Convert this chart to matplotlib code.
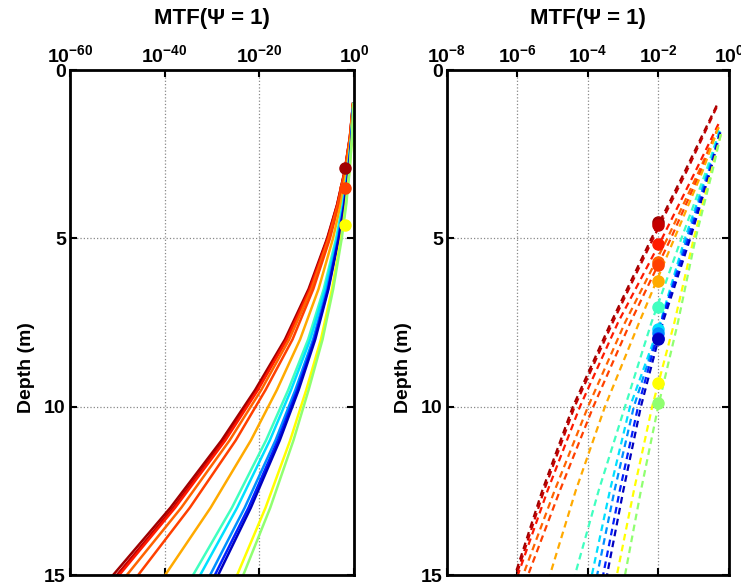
import numpy as np
import matplotlib.pyplot as plt

plt.rcParams['font.family'] = ['Liberation Sans', 'DejaVu Sans']
plt.rcParams['font.weight'] = 'bold'
plt.rcParams['mathtext.fontset'] = 'custom'
plt.rcParams['mathtext.rm'] = 'Liberation Sans:bold'
plt.rcParams['mathtext.bf'] = 'Liberation Sans:bold'
plt.rcParams['mathtext.it'] = 'Liberation Sans:bold'

# farby kriviek (jet-like)
colors = ['#a00000', '#c40000', '#ff1a00', '#ff6400', '#ff4000', '#ffaa00', '#40ffc0',
          '#00e0ff', '#0090ff', '#0020ff', '#0000c0', '#ffff00', '#90ff70']

# lavy graf: log10(MTF) v hlbkach
left_depth = [1, 2, 3, 4, 5, 6.5, 8, 9.5, 11, 13, 15]
left_logmtf = [
    [-0.23, -0.9, -2.0, -3.6, -5.7, -9.6, -14.6, -20.9, -28.0, -38.8, -50.9],
    [-0.22, -0.89, -1.97, -3.56, -5.6, -9.4, -14.3, -20.5, -27.5, -38.2, -50.1],
    [-0.22, -0.88, -1.95, -3.5, -5.5, -9.3, -14.2, -20.3, -27.2, -37.8, -49.6],
    [-0.21, -0.85, -1.9, -3.4, -5.35, -9.0, -13.7, -19.6, -26.3, -36.5, -48.0],
    [-0.2, -0.81, -1.8, -3.25, -5.1, -8.6, -13.0, -18.7, -25.0, -34.7, -45.6],
    [-0.18, -0.71, -1.6, -2.85, -4.45, -7.5, -11.4, -16.3, -21.8, -30.3, -39.9],
    [-0.15, -0.6, -1.36, -2.42, -3.8, -6.4, -9.7, -13.9, -18.6, -25.8, -34.0],
    [-0.14, -0.58, -1.3, -2.3, -3.6, -6.1, -9.25, -13.3, -17.8, -24.7, -32.5],
    [-0.14, -0.54, -1.22, -2.16, -3.4, -5.7, -8.65, -12.4, -16.6, -23.1, -30.4],
    [-0.13, -0.52, -1.18, -2.1, -3.27, -5.5, -8.4, -12.0, -16.1, -22.3, -29.4],
    [-0.13, -0.51, -1.15, -2.04, -3.2, -5.4, -8.2, -11.7, -15.7, -21.8, -28.7],
    [-0.11, -0.44, -0.99, -1.76, -2.75, -4.65, -7.0, -10.1, -13.5, -18.7, -24.7],
    [-0.1, -0.42, -0.94, -1.66, -2.6, -4.4, -6.65, -9.6, -12.8, -17.7, -23.4],
]
# viditelne body v lavom grafe (index krivky, hlbka)
left_mark_curve = [0, 4, 11]
left_mark_depth = [2.9, 3.5, 4.6]

# pravy graf: zaciatok krivky + hodnoty na spolocnej mriezke
right_start_depth = [1.05, 1.1, 1.6, 1.7, 1.7, 1.7, 1.8, 1.8, 1.85, 1.85, 1.85, 1.9, 1.9]
right_start_val = [-0.35, -0.35, -0.3, -0.3, -0.3, -0.3, -0.27, -0.27, -0.25, -0.25, -0.25, -0.23, -0.23]
right_depth = [3, 5, 7.5, 10, 12.5, 15]
right_logmtf = [
    [-1.25, -2.2, -3.35, -4.43, -5.3, -6.07],
    [-1.2, -2.15, -3.3, -4.38, -5.25, -6.03],
    [-0.95, -1.9, -3.15, -4.23, -5.15, -5.99],
    [-0.85, -1.75, -2.95, -4.0, -4.95, -5.84],
    [-0.8, -1.65, -2.8, -3.85, -4.8, -5.7],
    [-0.75, -1.55, -2.55, -3.52, -4.35, -5.08],
    [-0.65, -1.35, -2.2, -2.95, -3.7, -4.37],
    [-0.6, -1.25, -1.95, -2.81, -3.38, -3.89],
    [-0.58, -1.2, -1.93, -2.7, -3.25, -3.74],
    [-0.55, -1.15, -1.93, -2.58, -3.1, -3.57],
    [-0.53, -1.1, -1.88, -2.5, -3.0, -3.46],
    [-0.5, -1.0, -1.55, -2.18, -2.7, -3.18],
    [-0.47, -0.95, -1.45, -2.01, -2.5, -2.95],
]
right_mark_depth = [4.52, 4.6, 5.15, 5.7, 5.8, 6.25, 7.05, 7.7, 7.8, 7.95, 8.0, 9.3, 9.9]

mark_level = 1e-2
left_xexp = [-60, -40, -20, 0]
right_xexp = [-8, -6, -4, -2, 0]
depth_ticks = [0, 5, 10, 15]


def style(ax, xexp):
    ax.set_xscale('log')
    ax.set_xlim(10.0 ** xexp[0], 10.0 ** xexp[-1])
    ax.set_ylim(15, 0)
    ax.set_xticks([10.0 ** e for e in xexp])
    ax.set_xticklabels([r'$10^{%d}$' % e for e in xexp])
    ax.xaxis.set_minor_locator(plt.NullLocator())
    ax.set_yticks(depth_ticks)
    ax.tick_params(direction='in', top=True, bottom=True, left=True, right=True,
                   labeltop=True, labelbottom=False, labelsize=14, length=5, width=1.5, pad=3)
    ax.grid(True, linestyle=':', color='#888888', linewidth=0.9)
    for s in ax.spines.values():
        s.set_linewidth(2)
    ax.set_ylabel('Depth (m)', fontsize=14, fontweight='bold', labelpad=4)
    ax.yaxis.set_label_coords(-0.125, 0.41)
    ax.text(0.5, 1.103, 'MTF(Ψ = 1)', transform=ax.transAxes, ha='center', va='center',
            fontsize=16, fontweight='bold')


fig = plt.figure(figsize=(7.41, 5.87), dpi=100)
ax1 = fig.add_axes([0.0945, 0.0204, 0.3833, 0.860])
ax2 = fig.add_axes([0.6032, 0.0204, 0.3806, 0.860])

for i in range(len(colors)):
    ax1.plot(10.0 ** np.array(left_logmtf[i]), left_depth, color=colors[i], lw=1.8)
for k, i in enumerate(left_mark_curve):
    ax1.plot(mark_level, left_mark_depth[k], 'o', color=colors[i], ms=8)

for i in range(len(colors)):
    d = [right_start_depth[i]] + right_depth
    v = np.array([right_start_val[i]] + right_logmtf[i])
    ax2.plot(10.0 ** v, d, color=colors[i], lw=1.6, linestyle=(0, (3, 2)))
for i in range(len(colors)):
    ax2.plot(mark_level, right_mark_depth[i], 'o', color=colors[i], ms=8)

style(ax1, left_xexp)
style(ax2, right_xexp)

fig.savefig('out.png', dpi=100)
